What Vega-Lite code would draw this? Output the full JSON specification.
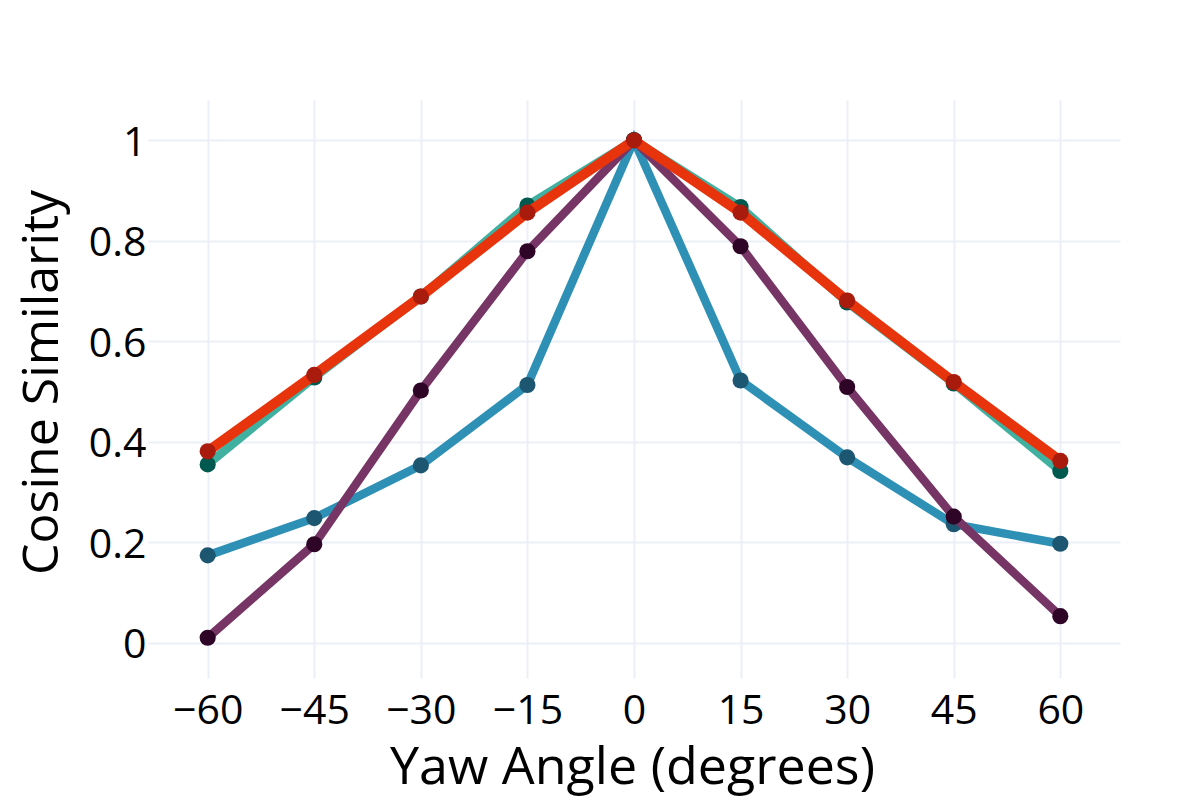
{
  "$schema": "https://vega.github.io/schema/vega-lite/v6.json",
  "description": "Cosine similarity against yaw angle, four series",
  "background": "white",
  "autosize": {"type": "none"},
  "padding": {"left": 148, "top": 100, "right": 80, "bottom": 122},
  "width": 972,
  "height": 578,
  "config": {
    "view": {"stroke": null},
    "font": "Open Sans"
  },
  "data": {
    "values": [
      {"yaw": -60, "series": "s1", "sim": 0.355},
      {"yaw": -45, "series": "s1", "sim": 0.528},
      {"yaw": -30, "series": "s1", "sim": 0.689},
      {"yaw": -15, "series": "s1", "sim": 0.870},
      {"yaw": 0, "series": "s1", "sim": 1.0},
      {"yaw": 15, "series": "s1", "sim": 0.867},
      {"yaw": 30, "series": "s1", "sim": 0.677},
      {"yaw": 45, "series": "s1", "sim": 0.516},
      {"yaw": 60, "series": "s1", "sim": 0.342},
      {"yaw": -60, "series": "s2", "sim": 0.381},
      {"yaw": -45, "series": "s2", "sim": 0.533},
      {"yaw": -30, "series": "s2", "sim": 0.689},
      {"yaw": -15, "series": "s2", "sim": 0.856},
      {"yaw": 0, "series": "s2", "sim": 1.0},
      {"yaw": 15, "series": "s2", "sim": 0.856},
      {"yaw": 30, "series": "s2", "sim": 0.681},
      {"yaw": 45, "series": "s2", "sim": 0.519},
      {"yaw": 60, "series": "s2", "sim": 0.362},
      {"yaw": -60, "series": "s3", "sim": 0.174},
      {"yaw": -45, "series": "s3", "sim": 0.248},
      {"yaw": -30, "series": "s3", "sim": 0.353},
      {"yaw": -15, "series": "s3", "sim": 0.513},
      {"yaw": 0, "series": "s3", "sim": 1.0},
      {"yaw": 15, "series": "s3", "sim": 0.522},
      {"yaw": 30, "series": "s3", "sim": 0.369},
      {"yaw": 45, "series": "s3", "sim": 0.236},
      {"yaw": 60, "series": "s3", "sim": 0.197},
      {"yaw": -60, "series": "s4", "sim": 0.010},
      {"yaw": -45, "series": "s4", "sim": 0.196},
      {"yaw": -30, "series": "s4", "sim": 0.502},
      {"yaw": -15, "series": "s4", "sim": 0.779},
      {"yaw": 0, "series": "s4", "sim": 1.0},
      {"yaw": 15, "series": "s4", "sim": 0.789},
      {"yaw": 30, "series": "s4", "sim": 0.509},
      {"yaw": 45, "series": "s4", "sim": 0.251},
      {"yaw": 60, "series": "s4", "sim": 0.053}
    ]
  },
  "encoding": {
    "x": {
      "field": "yaw",
      "type": "quantitative",
      "title": "Yaw Angle (degrees)",
      "scale": {"domain": [-68.4, 68.4], "nice": false, "zero": false},
      "axis": {
        "values": [-60, -45, -30, -15, 0, 15, 30, 45, 60],
        "domain": false,
        "ticks": false,
        "tickSize": 0,
        "gridColor": "#ebf0f8",
        "gridWidth": 2,
        "labelFont": "Open Sans",
        "labelFontSize": 41,
        "labelColor": "#000000",
        "labelBaseline": "alphabetic",
        "labelPadding": 45,
        "titleFont": "Open Sans",
        "titleFontSize": 52,
        "titleFontWeight": "normal",
        "titleColor": "#000000",
        "titleBaseline": "alphabetic",
        "titleX": 484,
        "titleY": 105
      }
    },
    "y": {
      "field": "sim",
      "type": "quantitative",
      "title": "Cosine Similarity",
      "scale": {"domain": [-0.07, 1.08], "nice": false, "zero": false},
      "axis": {
        "values": [0, 0.2, 0.4, 0.6, 0.8, 1],
        "format": ".1~f",
        "domain": false,
        "ticks": false,
        "tickSize": 0,
        "gridColor": "#ebf0f8",
        "gridWidth": 2,
        "labelFont": "Open Sans",
        "labelFontSize": 41,
        "labelColor": "#000000",
        "labelBaseline": "alphabetic",
        "labelOffset": 15,
        "labelPadding": 2,
        "titleFont": "Open Sans",
        "titleFontSize": 50,
        "titleFontWeight": "normal",
        "titleColor": "#000000",
        "titleBaseline": "alphabetic",
        "titleAngle": -90,
        "titleX": -91,
        "titleY": 282
      }
    }
  },
  "layer": [
    {
      "transform": [{"filter": "datum.series === 's3'"}],
      "layer": [
        {"mark": {"type": "line", "color": "#2e90b5", "strokeWidth": 8.5}},
        {"mark": {"type": "point", "filled": true, "color": "#1d5670", "size": 260, "opacity": 1}}
      ]
    },
    {
      "transform": [{"filter": "datum.series === 's4'"}],
      "layer": [
        {"mark": {"type": "line", "color": "#763565", "strokeWidth": 8.5}},
        {"mark": {"type": "point", "filled": true, "color": "#2e0526", "size": 260, "opacity": 1}}
      ]
    },
    {
      "transform": [{"filter": "datum.series === 's1'"}],
      "layer": [
        {"mark": {"type": "line", "color": "#40b0a0", "strokeWidth": 8.5}},
        {"mark": {"type": "point", "filled": true, "color": "#00594f", "size": 260, "opacity": 1}}
      ]
    },
    {
      "transform": [{"filter": "datum.series === 's2'"}],
      "layer": [
        {"mark": {"type": "line", "color": "#e8340c", "strokeWidth": 10}},
        {"mark": {"type": "point", "filled": true, "color": "#a91b0d", "size": 260, "opacity": 1}}
      ]
    }
  ]
}
